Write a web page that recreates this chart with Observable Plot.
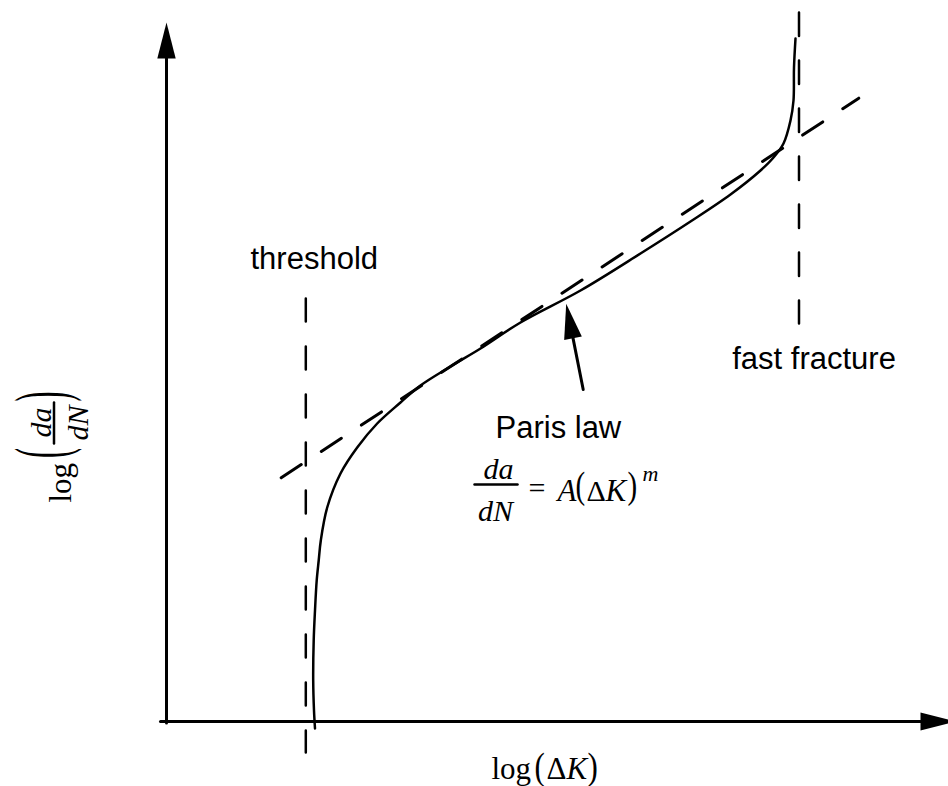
<!DOCTYPE html>
<html><head><meta charset="utf-8">
<script src="https://cdn.jsdelivr.net/npm/d3@7"></script>
<script src="https://cdn.jsdelivr.net/npm/@observablehq/plot@0.6"></script>
<style>html,body{margin:0;background:#fff}#chart svg{display:block}</style>
</head><body><div id="chart"></div>
<script>
// ---------- DATA (schematic units: log ΔK across, log da/dN upward) ----------
const curveLogK    = [314.5, 313.5, 312.7, 313.2, 314.5, 316.2, 318.2, 320.3, 326.7, 340.0, 356.7, 376.7, 400.0, 420.0, 450.0, 480.0, 520.0, 580.0, 640.0, 690.0, 730.0, 760.0, 773.0, 783.0, 790.0, 793.0, 793.5, 795.0];
const curveLogRate = [58, 76, 106, 146, 176, 206, 226, 246, 279, 313, 339, 363, 384, 401, 420, 438, 464, 496, 533, 565, 592, 616, 629, 643, 666, 686, 719, 748];
const parisLogK    = [280.7, 858.3];
const parisLogRate = [308.7, 688.3];
const thresholdLogK = 305.3;
const thresholdRange = [488, 34];
const fractureLogK = 798.5;
const fractureRange = [774, 463];
const axisOrigin = [166, 65];
const axisEnds = [955, 764];
const annotationLabels = ["threshold", "fast fracture", "Paris law"];
const xLabelParts = ["log", "(", "Δ", "K", ")"];
const yLabelParts = ["log", "(", "da", "dN", ")"];
const formulaParts = ["da", "dN", "=", "A", "(", "Δ", "K", ")", "m"];

// ---------- BUILD ----------
const curve = curveLogK.map((x, i) => ({x, y: curveLogRate[i]}));
const paris = parisLogK.map((x, i) => ({x, y: parisLogRate[i]}));

const heads = [];
function addHead(id, tail, tip, L, W) {
  const dx = tip[0] - tail[0], dy = tip[1] - tail[1], n = Math.hypot(dx, dy);
  const ux = dx / n, uy = dy / n, bx = tip[0] - L * ux, by = tip[1] - L * uy;
  heads.push({id, x: tip[0], y: tip[1]}, {id, x: bx - W * uy, y: by + W * ux},
             {id, x: bx + W * uy, y: by - W * ux});
  return [bx, by];
}
const xBase = addHead("x", [axisOrigin[0] - 6, axisOrigin[1]], [axisEnds[0], axisOrigin[1]], 35, 9);
const yBase = addHead("y", [axisOrigin[0], axisOrigin[1]], [axisOrigin[0], axisEnds[1]], 36, 9.2);
const pTail = [582.7, 397], pTip = [565.7, 482.7];
const pBase = addHead("p", pTail, pTip, 35, 9);

const serif = "Liberation Serif, Times New Roman, serif";
const sans = "Liberation Sans, Arial, Helvetica, sans-serif";
const T = (t, x, y, o = {}) => Plot.text([t], {x: () => x, y: () => y, text: d => d, lineAnchor: "bottom", fill: "black", ...o});

const chart = Plot.plot({
  width: 948, height: 786, margin: 0,
  x: {domain: [0, 948], axis: null},
  y: {domain: [0, 786], axis: null},
  style: {background: "white", overflow: "visible"},
  marks: [
    // axes
    Plot.line([{x: axisOrigin[0] - 6, y: axisOrigin[1]}, {x: xBase[0], y: axisOrigin[1]}], {x: "x", y: "y", stroke: "black", strokeWidth: 3}),
    Plot.line([{x: axisOrigin[0], y: axisOrigin[1] - 1.5}, {x: axisOrigin[0], y: yBase[1]}], {x: "x", y: "y", stroke: "black", strokeWidth: 3}),
    // dashed guides
    Plot.line(thresholdRange.map(y => ({x: thresholdLogK, y})), {x: "x", y: "y", stroke: "black", strokeWidth: 2.5, strokeDasharray: "23,25"}),
    Plot.line(fractureRange.map(y => ({x: fractureLogK, y})), {x: "x", y: "y", stroke: "black", strokeWidth: 2.5, strokeDasharray: "23.5,24.5"}),
    Plot.line(paris, {x: "x", y: "y", stroke: "black", strokeWidth: 3, strokeDasharray: "24,24"}),
    // crack growth curve
    Plot.line(curve, {x: "x", y: "y", curve: "catmull-rom", stroke: "black", strokeWidth: 2.5}),
    // Paris law pointer
    Plot.line([{x: pTail[0], y: pTail[1]}, {x: pBase[0], y: pBase[1]}], {x: "x", y: "y", stroke: "black", strokeWidth: 3}),
    // arrowheads
    Plot.line(heads, {x: "x", y: "y", z: "id", fill: "black", stroke: "none", curve: "linear-closed"}),
    // annotations
    T(annotationLabels[0], 250, 518, {fontFamily: sans, fontSize: 31, textAnchor: "start"}),
    T(annotationLabels[1], 731.7, 418, {fontFamily: sans, fontSize: 31, textAnchor: "start"}),
    T(annotationLabels[2], 495, 349, {fontFamily: sans, fontSize: 31, textAnchor: "start"}),
    // formula
    T(formulaParts[0], 498, 308, {fontFamily: serif, fontStyle: "italic", fontSize: 30}),
    Plot.line([{x: 474, y: 302}, {x: 517, y: 302}], {x: "x", y: "y", stroke: "black", strokeWidth: 2.5}),
    T(formulaParts[1], 495, 266, {fontFamily: serif, fontStyle: "italic", fontSize: 30}),
    T(formulaParts[2], 536.5, 289, {fontFamily: serif, fontSize: 30}),
    T(formulaParts[3], 557, 286, {fontFamily: serif, fontStyle: "italic", fontSize: 31, textAnchor: "start"}),
    T(formulaParts[4], 575, 289, {fontFamily: serif, fontSize: 29, textAnchor: "start", className: "paren-f"}),
    T(formulaParts[5], 586, 286, {fontFamily: serif, fontSize: 30, textAnchor: "start"}),
    T(formulaParts[6], 605, 286, {fontFamily: serif, fontStyle: "italic", fontSize: 31, textAnchor: "start"}),
    T(formulaParts[7], 627, 289, {fontFamily: serif, fontSize: 29, textAnchor: "start", className: "paren-f"}),
    T(formulaParts[8], 642, 306, {fontFamily: serif, fontStyle: "italic", fontSize: 22, textAnchor: "start"}),
    // x label
    T(xLabelParts[0], 491, 8, {fontFamily: serif, fontSize: 31, textAnchor: "start"}),
    T(xLabelParts[1], 534, 8, {fontFamily: serif, fontSize: 31, textAnchor: "start", className: "paren-x"}),
    T(xLabelParts[2], 546, 8, {fontFamily: serif, fontSize: 31, textAnchor: "start"}),
    T(xLabelParts[3], 566, 8, {fontFamily: serif, fontStyle: "italic", fontSize: 31, textAnchor: "start"}),
    T(xLabelParts[4], 587, 8, {fontFamily: serif, fontSize: 31, textAnchor: "start", className: "paren-x"}),
    // y label (rotated)
    T(yLabelParts[0], 70, 284, {fontFamily: serif, fontSize: 31, textAnchor: "start", rotate: -90}),
    T(yLabelParts[1], 65, 333.5, {fontFamily: serif, fontSize: 30, rotate: -90, className: "paren-y"}),
    T(yLabelParts[2], 50, 364, {fontFamily: serif, fontStyle: "italic", fontSize: 30, rotate: -90}),
    Plot.line([{x: 53.5, y: 343}, {x: 53.5, y: 384}], {x: "x", y: "y", stroke: "black", strokeWidth: 2.5}),
    T(yLabelParts[3], 87, 363.5, {fontFamily: serif, fontStyle: "italic", fontSize: 30, rotate: -90}),
    T(yLabelParts[4], 65, 390, {fontFamily: serif, fontSize: 30, rotate: -90, className: "paren-y"})
  ]
});
// stretch the delimiters vertically (in their own text frame), like tall math parentheses
for (const [cls, k] of [["paren-f", 1.3], ["paren-x", 1.22], ["paren-y", 2.45]]) {
  d3.select(chart).selectAll(`.${cls} text`).attr("transform", function() {
    return (this.getAttribute("transform") || "") + ` scale(1,${k})`;
  });
}
document.getElementById("chart").appendChild(chart);
</script>
</body></html>
